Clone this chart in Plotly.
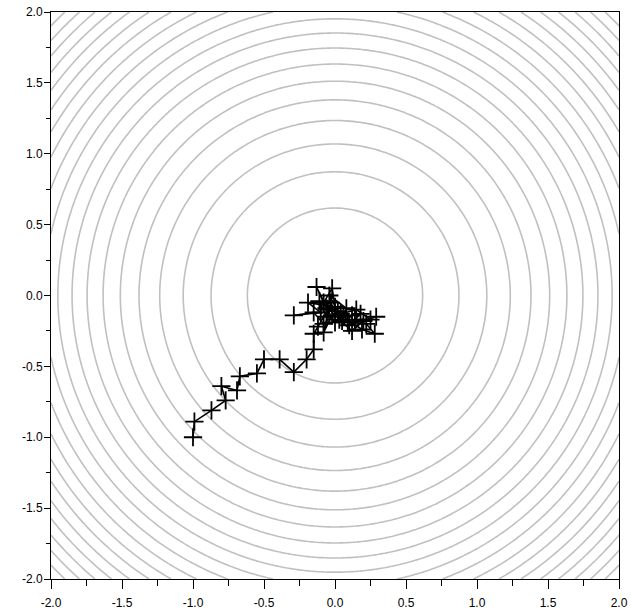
import numpy as np
import plotly.graph_objects as go

# Iterates of the optimiser path on f(x, y) = x^2 + y^2
path_x = [-1.00, -0.99, -0.87, -0.77, -0.80, -0.69, -0.67, -0.55, -0.50, -0.39,
          -0.29, -0.20, -0.15, -0.15, -0.12, -0.05, -0.13, -0.08, -0.02, 0.00,
          -0.19, -0.10, -0.29, -0.15, -0.08, 0.02, -0.04, 0.08, 0.05, -0.11,
          -0.06, 0.12, 0.18, 0.10, 0.29, 0.20, 0.12, 0.03, -0.03, -0.08,
          -0.02, 0.06, 0.19, 0.28, 0.22, 0.14, 0.25, 0.15, 0.04, -0.06,
          0.00, 0.09]
path_y = [-1.00, -0.89, -0.81, -0.74, -0.64, -0.67, -0.57, -0.55, -0.45, -0.45,
          -0.54, -0.45, -0.38, -0.27, -0.22, -0.10, 0.06, -0.05, 0.05, -0.08,
          -0.05, -0.12, -0.14, -0.12, -0.20, -0.11, 0.00, -0.09, -0.18, -0.04,
          -0.15, -0.14, -0.13, -0.21, -0.15, -0.18, -0.25, -0.17, -0.05, -0.26,
          -0.14, -0.15, -0.24, -0.27, -0.20, -0.17, -0.17, -0.10, -0.13, -0.09,
          -0.19, -0.19]

tick_vals = [-2.0, -1.5, -1.0, -0.5, 0.0, 0.5, 1.0, 1.5, 2.0]
tick_text = ["-2.0", "-1.5", "-1.0", "-0.5", "0.0", "0.5", "1.0", "1.5", "2.0"]
n_levels = 20

# Objective surface on the viewing window
g = np.linspace(-2, 2, 161)
gx, gy = np.meshgrid(g, g)
z = gx ** 2 + gy ** 2
zmin, zmax = float(z.min()), float(z.max())
step = (zmax - zmin) / (n_levels + 1)

gray = "#c0c0c0"
fig = go.Figure()
fig.add_trace(go.Contour(
    x=g, y=g, z=z,
    autocontour=False,
    contours=dict(start=zmin + step, end=zmin + n_levels * step + 1e-9,
                  size=step, coloring="lines"),
    colorscale=[[0, gray], [1, gray]],
    line=dict(width=1.6),
    showscale=False, hoverinfo="skip",
))
fig.add_trace(go.Scatter(
    x=path_x, y=path_y, mode="lines+markers",
    line=dict(color="black", width=1.6),
    marker=dict(symbol="cross-thin", size=13, line=dict(color="black", width=1.8)),
    showlegend=False,
))

axis_common = dict(
    range=[-2, 2], tickmode="array", tickvals=tick_vals, ticktext=tick_text,
    ticks="outside", tickcolor="black", tickwidth=1,
    showline=True, linecolor="black", linewidth=1, mirror=True,
    showgrid=False, zeroline=False, automargin=False,
    tickfont=dict(family="Liberation Sans", size=12, color="black"),
)
fig.update_xaxes(**axis_common, ticklen=9, ticklabelstandoff=4,
                 minor=dict(ticks="outside", ticklen=6, dtick=0.25,
                            tickcolor="black", showgrid=False))
fig.update_yaxes(**axis_common, ticklen=6, ticklabelstandoff=-1,
                 minor=dict(ticks="outside", ticklen=4, dtick=0.25,
                            tickcolor="black", showgrid=False))

fig.update_layout(
    width=631, height=611,
    margin=dict(l=51, r=12, t=12, b=32, autoexpand=False),
    plot_bgcolor="white", paper_bgcolor="white",
    showlegend=False,
)
fig.write_html("out.html")
